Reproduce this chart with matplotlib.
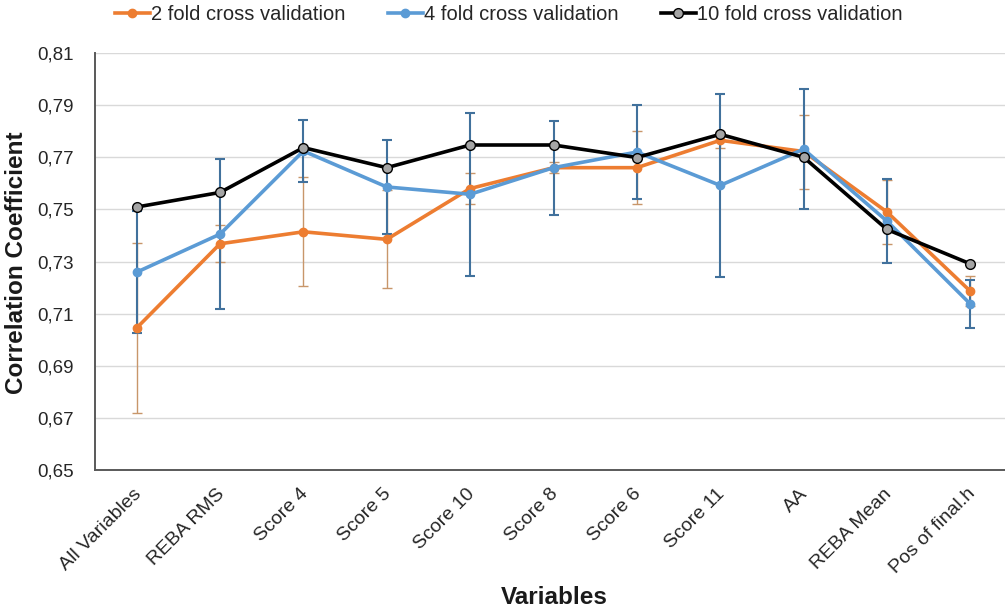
import matplotlib
matplotlib.use("Agg")
import matplotlib.pyplot as plt
from matplotlib.ticker import FuncFormatter
import matplotlib.transforms as mtransforms
import numpy as np

plt.rcParams['font.family'] = ['Liberation Sans', 'DejaVu Sans']

categories = ["All Variables", "REBA RMS", "Score 4", "Score 5", "Score 10", "Score 8",
              "Score 6", "Score 11", "AA", "REBA Mean", "Pos of final.h"]

fold2 = [0.7045, 0.7368, 0.7414, 0.7385, 0.7580, 0.7660, 0.7660, 0.7765, 0.7722, 0.7490, 0.7186]
fold2_err = [0.0327, 0.0071, 0.0209, 0.0188, 0.0060, 0.0020, 0.0141, 0.0030, 0.0142, 0.0124, 0.0058]

fold4 = [0.7259, 0.7405, 0.7724, 0.7586, 0.7558, 0.7660, 0.7720, 0.7592, 0.7731, 0.7455, 0.7137]
fold4_err = [0.0233, 0.0287, 0.0118, 0.0182, 0.0312, 0.0180, 0.0180, 0.0350, 0.0229, 0.0160, 0.0092]

fold10 = [0.7509, 0.7565, 0.7737, 0.7660, 0.7747, 0.7747, 0.7699, 0.7788, 0.7700, 0.7423, 0.7291]

series_labels = ["2 fold cross validation", "4 fold cross validation", "10 fold cross validation"]
yticks = [0.65, 0.67, 0.69, 0.71, 0.73, 0.75, 0.77, 0.79, 0.81]

W, H = 1005, 615
fig = plt.figure(figsize=(W / 100, H / 100), dpi=100)
ax = fig.add_axes([95 / W, 1 - 470 / H, (1012 - 95) / W, (470 - 53) / H])

x = np.arange(len(categories))

orange = "#ED7D31"
blue = "#5B9BD5"

# error bars
ax.errorbar(x, fold2, yerr=fold2_err, fmt='none', ecolor="#C8966A", elinewidth=1.0,
            capsize=3.8, capthick=1.0, zorder=2)
ax.errorbar(x, fold4, yerr=fold4_err, fmt='none', ecolor="#41719C", elinewidth=1.5,
            capsize=3.8, capthick=1.5, zorder=2)

l2, = ax.plot(x, fold2, color=orange, lw=2.6, marker='o', ms=6, mfc=orange, mec=orange,
              label=series_labels[0], zorder=3)
l4, = ax.plot(x, fold4, color=blue, lw=2.6, marker='o', ms=6, mfc=blue, mec=blue,
              label=series_labels[1], zorder=4)
l10, = ax.plot(x, fold10, color="black", lw=2.6, marker='o', ms=7, mfc="#A5A5A5", mec="black",
               mew=1.0, label=series_labels[2], zorder=5)

ax.set_xlim(-0.5, 10.5)
ax.set_ylim(0.65, 0.81)
ax.set_yticks(yticks)
ax.yaxis.set_major_formatter(FuncFormatter(lambda v, p: f"{v:.2f}".replace('.', ',')))
ax.set_xticks(x)
ax.set_xticklabels(categories, rotation=45, ha='right', rotation_mode='anchor', fontsize=14)
ax.tick_params(axis='y', labelsize=13.5, length=0, pad=15, colors="#404040")
ax.tick_params(axis='x', length=0, pad=11, colors="#404040")
ax.tick_params(axis='both', labelcolor="#262626")
offset = mtransforms.ScaledTranslation(-4 / 100, 0, fig.dpi_scale_trans)
for lab in ax.get_xticklabels():
    lab.set_transform(lab.get_transform() + offset)

ax.grid(axis='y', color="#D9D9D9", lw=1.0)
ax.set_axisbelow(True)
for s in ['top', 'right']:
    ax.spines[s].set_visible(False)
for s in ['left', 'bottom']:
    ax.spines[s].set_color("#595959")
    ax.spines[s].set_linewidth(1.4)

ax.set_ylabel("Correlation Coefficient", fontsize=17.5, fontweight='bold', color="#1a1a1a")
ax.yaxis.set_label_coords(28 / W, 1 - 263 / H, transform=fig.transFigure)
fig.text(554 / W, 1 - 598 / H, "Variables", fontsize=17.5, fontweight='bold', color="#1a1a1a",
         ha='center', va='center')

fig.legend(handles=[l2, l4, l10], loc='center', bbox_to_anchor=(508.5 / W, 1 - 15 / H), ncol=3,
           frameon=False, fontsize=14.5, handlelength=1.75, columnspacing=2.1, handletextpad=0.05,
           labelcolor="#262626")

fig.savefig("out.png", dpi=100)
